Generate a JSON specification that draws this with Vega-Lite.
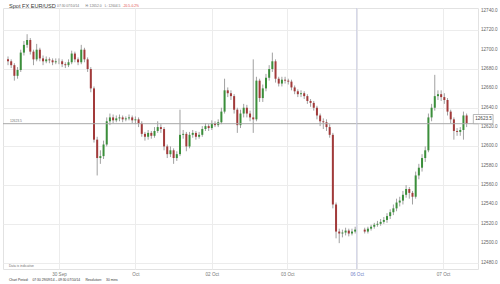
{
  "$schema": "https://vega.github.io/schema/vega-lite/v6.json",
  "autosize": "none",
  "width": 475,
  "height": 261,
  "padding": {"left": 3, "top": 8, "right": 22, "bottom": 15},
  "background": "white",
  "config": {
    "font": "Liberation Sans",
    "view": {"stroke": "#e2e2e2", "strokeWidth": 1},
    "axis": {"labelFont": "Liberation Sans", "labelColor": "#666", "labelFontSize": 4.6, "labelOverlap": false, "ticks": false, "domain": false, "gridColor": "#ececec", "gridWidth": 1, "title": null}
  },
  "datasets": {
    "candles": [
      {"k":0,"o":12690,"c":12688,"h":12693,"l":12684},
      {"k":1,"o":12688,"c":12684,"h":12690,"l":12681},
      {"k":2,"o":12684,"c":12673,"h":12686,"l":12668},
      {"k":3,"o":12673,"c":12679,"h":12682,"l":12670},
      {"k":4,"o":12679,"c":12697,"h":12700,"l":12677},
      {"k":5,"o":12697,"c":12705,"h":12709,"l":12694},
      {"k":6,"o":12705,"c":12710,"h":12716,"l":12702},
      {"k":7,"o":12710,"c":12698,"h":12712,"l":12695},
      {"k":8,"o":12698,"c":12690,"h":12700,"l":12684},
      {"k":9,"o":12690,"c":12700,"h":12706,"l":12688},
      {"k":10,"o":12700,"c":12691,"h":12702,"l":12688},
      {"k":11,"o":12691,"c":12688,"h":12694,"l":12684},
      {"k":12,"o":12688,"c":12690,"h":12693,"l":12686},
      {"k":13,"o":12690,"c":12689,"h":12692,"l":12686},
      {"k":14,"o":12689,"c":12687,"h":12691,"l":12684},
      {"k":15,"o":12687,"c":12688,"h":12691,"l":12685},
      {"k":16,"o":12688,"c":12688,"h":12691,"l":12685},
      {"k":17,"o":12688,"c":12685,"h":12690,"l":12682},
      {"k":18,"o":12685,"c":12684,"h":12687,"l":12681},
      {"k":19,"o":12684,"c":12687,"h":12690,"l":12682},
      {"k":20,"o":12687,"c":12696,"h":12699,"l":12685},
      {"k":21,"o":12696,"c":12690,"h":12698,"l":12687},
      {"k":22,"o":12690,"c":12687,"h":12692,"l":12684},
      {"k":23,"o":12687,"c":12700,"h":12705,"l":12685},
      {"k":24,"o":12700,"c":12690,"h":12702,"l":12687},
      {"k":25,"o":12690,"c":12680,"h":12692,"l":12677},
      {"k":26,"o":12680,"c":12660,"h":12682,"l":12656},
      {"k":27,"o":12660,"c":12607,"h":12662,"l":12604},
      {"k":28,"o":12607,"c":12588,"h":12610,"l":12570},
      {"k":29,"o":12588,"c":12590,"h":12596,"l":12582},
      {"k":30,"o":12590,"c":12602,"h":12606,"l":12587},
      {"k":31,"o":12602,"c":12626,"h":12630,"l":12600},
      {"k":32,"o":12626,"c":12630,"h":12634,"l":12622},
      {"k":33,"o":12630,"c":12627,"h":12633,"l":12624},
      {"k":34,"o":12627,"c":12629,"h":12632,"l":12625},
      {"k":35,"o":12629,"c":12630,"h":12633,"l":12626},
      {"k":36,"o":12630,"c":12628,"h":12632,"l":12625},
      {"k":37,"o":12628,"c":12629,"h":12631,"l":12626},
      {"k":38,"o":12629,"c":12630,"h":12633,"l":12627},
      {"k":39,"o":12630,"c":12627,"h":12632,"l":12624},
      {"k":40,"o":12627,"c":12628,"h":12631,"l":12623},
      {"k":41,"o":12628,"c":12624,"h":12630,"l":12620},
      {"k":42,"o":12624,"c":12613,"h":12626,"l":12610},
      {"k":43,"o":12613,"c":12610,"h":12615,"l":12606},
      {"k":44,"o":12610,"c":12614,"h":12617,"l":12607},
      {"k":45,"o":12614,"c":12611,"h":12616,"l":12608},
      {"k":46,"o":12611,"c":12616,"h":12620,"l":12609},
      {"k":47,"o":12616,"c":12620,"h":12626,"l":12614},
      {"k":48,"o":12620,"c":12618,"h":12623,"l":12614},
      {"k":49,"o":12618,"c":12600,"h":12620,"l":12596},
      {"k":50,"o":12600,"c":12592,"h":12602,"l":12588},
      {"k":51,"o":12592,"c":12596,"h":12600,"l":12589},
      {"k":52,"o":12596,"c":12588,"h":12598,"l":12582},
      {"k":53,"o":12588,"c":12592,"h":12595,"l":12585},
      {"k":54,"o":12592,"c":12612,"h":12638,"l":12590},
      {"k":55,"o":12612,"c":12613,"h":12617,"l":12608},
      {"k":56,"o":12613,"c":12600,"h":12615,"l":12595},
      {"k":57,"o":12600,"c":12612,"h":12615,"l":12598},
      {"k":58,"o":12612,"c":12614,"h":12617,"l":12609},
      {"k":59,"o":12614,"c":12610,"h":12616,"l":12607},
      {"k":60,"o":12610,"c":12612,"h":12615,"l":12608},
      {"k":61,"o":12612,"c":12618,"h":12621,"l":12610},
      {"k":62,"o":12618,"c":12621,"h":12624,"l":12616},
      {"k":63,"o":12621,"c":12619,"h":12623,"l":12616},
      {"k":64,"o":12619,"c":12624,"h":12627,"l":12617},
      {"k":65,"o":12624,"c":12622,"h":12626,"l":12620},
      {"k":66,"o":12622,"c":12625,"h":12628,"l":12620},
      {"k":67,"o":12625,"c":12636,"h":12640,"l":12623},
      {"k":68,"o":12636,"c":12658,"h":12670,"l":12634},
      {"k":69,"o":12658,"c":12655,"h":12661,"l":12651},
      {"k":70,"o":12655,"c":12652,"h":12658,"l":12648},
      {"k":71,"o":12652,"c":12638,"h":12654,"l":12634},
      {"k":72,"o":12638,"c":12622,"h":12640,"l":12614},
      {"k":73,"o":12622,"c":12634,"h":12638,"l":12619},
      {"k":74,"o":12634,"c":12640,"h":12644,"l":12630},
      {"k":75,"o":12640,"c":12634,"h":12643,"l":12630},
      {"k":76,"o":12634,"c":12630,"h":12637,"l":12626},
      {"k":77,"o":12630,"c":12628,"h":12690,"l":12614},
      {"k":78,"o":12628,"c":12668,"h":12672,"l":12626},
      {"k":79,"o":12668,"c":12650,"h":12670,"l":12646},
      {"k":80,"o":12650,"c":12660,"h":12664,"l":12646},
      {"k":81,"o":12660,"c":12671,"h":12675,"l":12657},
      {"k":82,"o":12671,"c":12680,"h":12684,"l":12668},
      {"k":83,"o":12680,"c":12688,"h":12697,"l":12677},
      {"k":84,"o":12688,"c":12670,"h":12690,"l":12666},
      {"k":85,"o":12670,"c":12665,"h":12672,"l":12662},
      {"k":86,"o":12665,"c":12669,"h":12672,"l":12662},
      {"k":87,"o":12669,"c":12668,"h":12672,"l":12665},
      {"k":88,"o":12668,"c":12667,"h":12670,"l":12664},
      {"k":89,"o":12667,"c":12661,"h":12669,"l":12658},
      {"k":90,"o":12661,"c":12657,"h":12663,"l":12654},
      {"k":91,"o":12657,"c":12654,"h":12659,"l":12651},
      {"k":92,"o":12654,"c":12655,"h":12658,"l":12651},
      {"k":93,"o":12655,"c":12652,"h":12657,"l":12649},
      {"k":94,"o":12652,"c":12647,"h":12654,"l":12644},
      {"k":95,"o":12647,"c":12645,"h":12649,"l":12641},
      {"k":96,"o":12645,"c":12640,"h":12647,"l":12637},
      {"k":97,"o":12640,"c":12632,"h":12642,"l":12628},
      {"k":98,"o":12632,"c":12626,"h":12634,"l":12621},
      {"k":99,"o":12626,"c":12625,"h":12629,"l":12618},
      {"k":100,"o":12625,"c":12620,"h":12628,"l":12616},
      {"k":101,"o":12620,"c":12612,"h":12623,"l":12609},
      {"k":102,"o":12612,"c":12540,"h":12614,"l":12536},
      {"k":103,"o":12540,"c":12512,"h":12542,"l":12505},
      {"k":104,"o":12512,"c":12510,"h":12515,"l":12500},
      {"k":105,"o":12510,"c":12511,"h":12514,"l":12506},
      {"k":106,"o":12511,"c":12513,"h":12516,"l":12508},
      {"k":107,"o":12513,"c":12510,"h":12515,"l":12507},
      {"k":108,"o":12510,"c":12512,"h":12515,"l":12508},
      {"k":109,"o":12512,"c":12514,"h":12517,"l":12510},
      {"k":112,"o":12514,"c":12512,"h":12516,"l":12510},
      {"k":113,"o":12512,"c":12515,"h":12517,"l":12510},
      {"k":114,"o":12515,"c":12517,"h":12519,"l":12513},
      {"k":115,"o":12517,"c":12519,"h":12521,"l":12515},
      {"k":116,"o":12519,"c":12520,"h":12523,"l":12517},
      {"k":117,"o":12520,"c":12522,"h":12525,"l":12518},
      {"k":118,"o":12522,"c":12524,"h":12527,"l":12520},
      {"k":119,"o":12524,"c":12528,"h":12531,"l":12521},
      {"k":120,"o":12528,"c":12532,"h":12535,"l":12525},
      {"k":121,"o":12532,"c":12536,"h":12540,"l":12529},
      {"k":122,"o":12536,"c":12542,"h":12546,"l":12533},
      {"k":123,"o":12542,"c":12544,"h":12548,"l":12538},
      {"k":124,"o":12544,"c":12550,"h":12554,"l":12540},
      {"k":125,"o":12550,"c":12556,"h":12560,"l":12547},
      {"k":126,"o":12556,"c":12552,"h":12558,"l":12546},
      {"k":127,"o":12552,"c":12548,"h":12554,"l":12540},
      {"k":128,"o":12548,"c":12570,"h":12574,"l":12546},
      {"k":129,"o":12570,"c":12578,"h":12582,"l":12566},
      {"k":130,"o":12578,"c":12588,"h":12592,"l":12574},
      {"k":131,"o":12588,"c":12596,"h":12600,"l":12584},
      {"k":132,"o":12596,"c":12630,"h":12634,"l":12594},
      {"k":133,"o":12630,"c":12640,"h":12644,"l":12626},
      {"k":134,"o":12640,"c":12652,"h":12674,"l":12637},
      {"k":135,"o":12652,"c":12654,"h":12658,"l":12648},
      {"k":136,"o":12654,"c":12651,"h":12658,"l":12647},
      {"k":137,"o":12651,"c":12648,"h":12655,"l":12644},
      {"k":138,"o":12648,"c":12636,"h":12650,"l":12632},
      {"k":139,"o":12636,"c":12628,"h":12638,"l":12624},
      {"k":140,"o":12628,"c":12616,"h":12630,"l":12607},
      {"k":141,"o":12616,"c":12615,"h":12619,"l":12611},
      {"k":142,"o":12615,"c":12617,"h":12620,"l":12611},
      {"k":143,"o":12617,"c":12632,"h":12636,"l":12607},
      {"k":144,"o":12632,"c":12623.5,"h":12634,"l":12620}
    ],
    "ticks": [
      {"v":12480},{"v":12500},{"v":12520},{"v":12540},{"v":12560},{"v":12580},{"v":12600},
      {"v":12620},{"v":12640},{"v":12660},{"v":12680},{"v":12700},{"v":12720},{"v":12740}
    ],
    "labels": [
      {"x":0.3,"y":12745.3,"t":"Spot FX EUR/USD","kind":"title"},
      {"x":15.4,"y":12745.3,"t":"07:30 07/10/14","kind":"info"},
      {"x":24.3,"y":12745.3,"t":"H: 12652.0","kind":"info"},
      {"x":30.4,"y":12745.3,"t":"L: 12604.5","kind":"info"},
      {"x":36.0,"y":12745.3,"t":"-20.5","kind":"neg"},
      {"x":38.4,"y":12745.3,"t":"-0.2%","kind":"neg"},
      {"x":0.3,"y":12476.4,"t":"Data is indicative","kind":"info"},
      {"x":0.3,"y":12461.9,"t":"Chart Period:","kind":"bold"},
      {"x":7.7,"y":12461.9,"t":"07:30 29/09/14 – 09:30 07/10/14","kind":"foot"},
      {"x":24.3,"y":12461.9,"t":"Resolution:","kind":"bold"},
      {"x":30.8,"y":12461.9,"t":"30 mins","kind":"foot"},
      {"x":0.6,"y":12626.5,"t":"12623.5","kind":"info"}
    ]
  },
  "layer": [
    {
      "data": {"name": "candles"},
      "mark": {"type": "rule", "color": "#a0a0a0", "strokeWidth": 1},
      "encoding": {
        "x": {"field": "k", "type": "quantitative",
          "scale": {"domain": [0, 146], "nice": false, "zero": false},
          "axis": {"values": [16, 40, 64, 87.7, 109.5, 136.6], "grid": true, "labelPadding": 2, "labelOverlap": false,
            "labelExpr": "datum.value == 16 ? '30 Sep' : datum.value == 40 ? 'Oct' : datum.value == 64 ? '02 Oct' : datum.value == 87.7 ? '03 Oct' : datum.value == 109.5 ? '06 Oct' : '07 Oct'",
            "labelColor": {"condition": {"test": "datum.value == 109.5", "value": "#7080c8"}, "value": "#777"}}},
        "y": {"field": "l", "type": "quantitative",
          "scale": {"domain": [12473.3, 12743.1], "nice": false, "zero": false},
          "axis": {"orient": "right", "values": [12480, 12500, 12520, 12540, 12560, 12580, 12600, 12620, 12640, 12660, 12680, 12700, 12720, 12740], "grid": true, "labels": false}},
        "y2": {"field": "h"}
      }
    },
    {
      "data": {"name": "candles"},
      "mark": {"type": "bar", "width": 2, "stroke": null},
      "encoding": {
        "x": {"field": "k", "type": "quantitative"},
        "y": {"field": "o", "type": "quantitative"},
        "y2": {"field": "c"},
        "color": {"condition": {"test": "datum.c >= datum.o", "value": "#3b8f3b"}, "value": "#a23a3a"}
      }
    },
    {
      "data": {"values": [{"p": 12623.5}]},
      "mark": {"type": "rule", "color": "#a8a8a8", "strokeWidth": 1},
      "encoding": {"y": {"field": "p", "type": "quantitative"}}
    },
    {
      "data": {"values": [{"d": 109.5}]},
      "mark": {"type": "rule", "color": "#c9cbe0", "strokeWidth": 1},
      "encoding": {"x": {"field": "d", "type": "quantitative"}}
    },
    {
      "data": {"name": "ticks"},
      "mark": {"type": "text", "align": "left", "baseline": "middle", "x": {"expr": "width"}, "dx": 3, "fontSize": 4.6, "color": "#666"},
      "encoding": {
        "y": {"field": "v", "type": "quantitative"},
        "text": {"field": "v", "type": "quantitative", "format": ".1f"}
      }
    },
    {
      "data": {"values": [{"x1": 146.1, "x2": 152.3, "y1": 12633, "y2": 12623.5}]},
      "mark": {"type": "rect", "fill": "white", "stroke": "#999", "strokeWidth": 0.7},
      "encoding": {
        "x": {"field": "x1", "type": "quantitative"},
        "x2": {"field": "x2"},
        "y": {"field": "y1", "type": "quantitative"},
        "y2": {"field": "y2"}
      }
    },
    {
      "data": {"values": [{"x": 146.7, "y": 12628.3, "t": "12623.5"}]},
      "mark": {"type": "text", "align": "left", "baseline": "middle", "fontSize": 4.6, "color": "#444"},
      "encoding": {
        "x": {"field": "x", "type": "quantitative"},
        "y": {"field": "y", "type": "quantitative"},
        "text": {"field": "t"}
      }
    },
    {
      "data": {"name": "labels"},
      "mark": {"type": "text", "align": "left", "baseline": "middle"},
      "encoding": {
        "x": {"field": "x", "type": "quantitative"},
        "y": {"field": "y", "type": "quantitative"},
        "text": {"field": "t"},
        "size": {"condition": {"test": "datum.kind == 'title'", "value": 5.6}, "value": 3.3},
        "color": {"condition": {"test": "datum.kind == 'neg'", "value": "#e04848"}, "value": "#333"},
        "opacity": {"condition": {"test": "datum.kind == 'info'", "value": 0.7}, "value": 1},
        "fontWeight": {"condition": {"test": "datum.kind == 'title' || datum.kind == 'bold'", "value": "bold"}, "value": "normal"}
      }
    }
  ]
}
